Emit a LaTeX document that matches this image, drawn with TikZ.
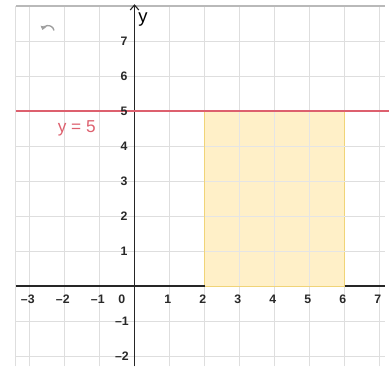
\documentclass[tikz,border=0pt]{standalone}
\usepackage{fontspec}
\setmainfont{Liberation Sans}
\usetikzlibrary{arrows.meta}
\definecolor{gridc}{RGB}{222,222,222}
\definecolor{redl}{RGB}{221,96,110}
\definecolor{fillc}{RGB}{255,240,200}
\definecolor{edgec}{RGB}{240,212,120}
\definecolor{labc}{RGB}{40,40,40}
\tikzset{
  ticklab/.style={font=\fontsize{10}{11}\selectfont\bfseries, text=labc, inner sep=1pt},
  axisline/.style={draw=black!85, line width=0.9pt}
}
\begin{document}
\begin{tikzpicture}
\useasboundingbox (-3.843,-2.314) rectangle (7.271,8.171);
% grid
\draw[gridc, line width=0.5pt] (-3.39,-2.2) grid (7.15,8);
\foreach \x in {-3,...,7} \draw[gridc, line width=0.5pt] (\x,-2.3) -- (\x,8);
\draw[gridc, line width=0.6pt] (-3.39,-2.3) -- (-3.39,8);
\draw[gray!55, line width=0.9pt] (-3.39,8) -- (7.15,8);
% shaded region
\draw[draw=edgec, fill=fillc, line width=0.6pt] (2,0) rectangle (6,5);
\foreach \x in {3,4,5} \draw[black!10, line width=0.4pt] (\x,0) -- (\x,5);
\foreach \y in {1,2,3,4} \draw[black!10, line width=0.4pt] (2,\y) -- (6,\y);
% axes
\coordinate (xl) at (-3.39,0);
\coordinate (x2) at (2,0);
\coordinate (x6) at (6,0);
\coordinate (xr) at (7.15,0);
\draw[axisline] (xl) -- (x2);
\draw[axisline] (x6) -- (xr);
\coordinate (yb) at (0,-2.3);
\coordinate (yt) at (0,8.05);
\draw[axisline, -{Straight Barb[length=4pt,width=7pt]}] (yb) -- (yt);
\node[font=\fontsize{15}{16}\selectfont, anchor=west, inner sep=0pt] (ylab) at (0.1,7.62) {y};
% red line
\coordinate (rl) at (-3.39,5);
\coordinate (rr) at (7.271,5);
\draw[redl, line width=1.3pt] (rl) -- (rr);
\node[font=\fontsize{14}{15}\selectfont, text=redl] (eq) at (-1.65,4.5) {y = 5};
% tick labels
\foreach \x/\t in {-3/–3,-2/–2,-1/–1,1/1,2/2,3/3,4/4,5/5,6/6,7/7}
  \node[ticklab] (tx\x) at (\x-0.05,-0.37) {\t};
\node[ticklab] (t0) at (-0.36,-0.37) {0};
\foreach \y in {1,...,7}
  \node[ticklab] (ty\y) at (-0.3,\y) {\y};
\node[ticklab] (tym1) at (-0.36,-1) {–1};
\node[ticklab] (tym2) at (-0.36,-2) {–2};
% undo icon
\draw[gray!75, line width=1.1pt, -{Triangle[length=3pt,width=4.5pt]}] (-2.3,7.3) arc (10:165:0.17);
\end{tikzpicture}
\end{document}
